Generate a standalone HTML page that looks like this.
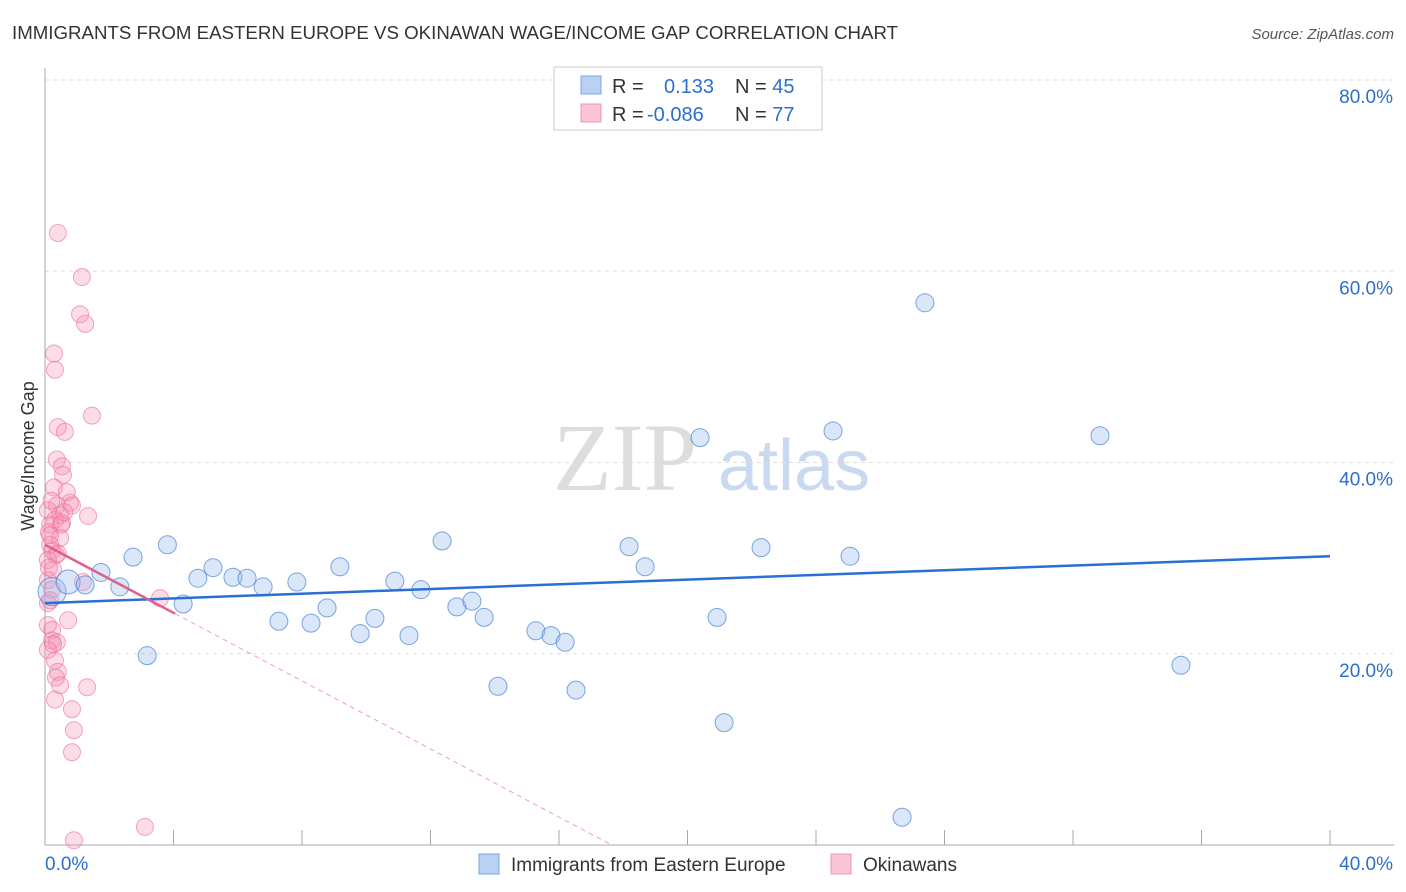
<!DOCTYPE html>
<html><head><meta charset="utf-8"><style>
body{margin:0;background:#fff;font-family:"Liberation Sans",sans-serif}
#wrap{position:relative;width:1406px;height:892px;overflow:hidden}
</style></head><body>
<div id="wrap">
<svg id="svg" width="1406" height="892" xmlns="http://www.w3.org/2000/svg">
<text x="12" y="39" font-size="18" fill="#333" textLength="886" lengthAdjust="spacingAndGlyphs">IMMIGRANTS FROM EASTERN EUROPE VS OKINAWAN WAGE/INCOME GAP CORRELATION CHART</text>
<text x="1394" y="39" font-size="15" fill="#555" font-style="italic" text-anchor="end">Source: ZipAtlas.com</text>
<g><text x="553" y="490" font-size="96" font-family="Liberation Serif,serif" fill="#ddd">ZIP</text><text x="718" y="490" font-size="72" fill="#c9d9f0">atlas</text></g>
<text transform="translate(34,456) rotate(-90)" font-size="18" fill="#333" text-anchor="middle">Wage/Income Gap</text>
<g id="grid"></g><g id="marks"></g><g id="trends"></g>
<g>
<rect x="554" y="67" width="268" height="63" fill="#fff" stroke="#ccc"/>
<rect x="581" y="76" width="20" height="18" fill="#b9d1f3" stroke="#7aa6e0"/>
<rect x="581" y="104" width="20" height="18" fill="#f9c4d3" stroke="#ec97b0"/>
<text x="612" y="93" font-size="20" fill="#333">R = <tspan fill="#2d6fcc" x="664">0.133</tspan><tspan x="735" fill="#333">N = </tspan><tspan fill="#2d6fcc">45</tspan></text>
<text x="612" y="121" font-size="20" fill="#333">R = <tspan fill="#2d6fcc" x="647">-0.086</tspan><tspan x="735" fill="#333">N = </tspan><tspan fill="#2d6fcc">77</tspan></text>
</g>
<g>
<rect x="479" y="854" width="20" height="20" fill="#b9d1f3" stroke="#7aa6e0"/>
<text x="511" y="871" font-size="19" fill="#333">Immigrants from Eastern Europe</text>
<rect x="831" y="854" width="20" height="20" fill="#f9c4d3" stroke="#ec97b0"/>
<text x="863" y="871" font-size="19" fill="#333">Okinawans</text>
</g>
</svg>
</div>
<script>
const yTicks=[20,40,60,80];
const yTickLabels=["20.0%","40.0%","60.0%","80.0%"];
const xTicks=[0,4,8,12,16,20,24,28,32,36,40];
const blueX=[0.22,0.72,1.25,1.74,2.33,2.74,3.18,3.81,4.30,4.76,5.23,5.85,6.29,6.79,7.28,7.84,8.28,8.78,9.18,9.81,10.27,10.89,11.33,11.70,12.36,12.82,13.29,13.67,14.10,15.28,15.75,16.19,16.53,18.18,18.68,20.39,20.92,21.14,22.29,24.53,25.06,26.68,27.39,32.84,35.36];
const blueY=[26.5,27.5,27.2,28.5,27.0,30.1,19.8,31.4,25.2,27.9,29.0,28.0,27.9,27.0,23.4,27.5,23.2,24.8,29.1,22.1,23.7,27.6,21.9,26.7,31.8,24.9,25.5,23.8,16.6,22.4,21.9,21.2,16.2,31.2,29.1,42.6,23.8,12.8,31.1,43.3,30.2,2.9,56.7,42.8,18.8];
const pinkX=[0.40,1.15,1.09,1.25,0.28,0.31,1.46,0.40,0.62,0.37,0.53,0.56,0.28,0.68,0.78,0.37,0.84,1.34,0.47,0.31,0.16,0.53,0.12,0.47,0.16,0.22,0.34,0.09,0.25,0.09,0.22,0.09,0.72,1.18,3.58,0.09,0.22,0.22,0.37,0.09,0.31,0.40,0.34,0.47,1.31,0.31,0.84,0.90,0.84,3.11,0.90,0.16,0.09,0.16,0.40,0.12,0.25,0.5,0.2,0.6];
const pinkY=[64.0,59.4,55.5,54.5,51.4,49.7,44.9,43.7,43.2,40.3,39.6,38.7,37.4,36.9,35.8,35.5,35.5,34.4,34.5,34.0,33.5,33.7,32.7,32.1,31.4,30.8,30.3,29.8,28.8,27.7,26.7,25.3,23.5,27.5,25.8,23.0,22.5,21.4,21.2,20.4,19.3,18.1,17.5,16.7,16.5,15.2,14.2,12.0,9.7,1.9,0.5,25.6,35.0,32.4,30.5,29.0,21.0,33.5,36.0,34.8];
const blueTrend=[25.3,30.2];
const pinkTrend=[31.4,-1.78];
const X0=45,X1=1330,Y0=845,Y80=80;
const sx=v=>X0+(v/40)*(X1-X0);
const sy=v=>Y0-(v/80)*(Y0-Y80);
const NS="http://www.w3.org/2000/svg";
function mk(t,a,p){const e=document.createElementNS(NS,t);for(const k in a)e.setAttribute(k,a[k]);p.appendChild(e);return e;}
const grid=document.getElementById('grid');
yTicks.forEach((t,i)=>{
 const l=mk('line',{x1:X0,x2:1394,y1:sy(t),y2:sy(t),stroke:'#ddd','stroke-dasharray':'4,4'},grid);
 
 
 const tx=mk('text',{x:1393,y:sy(t)+23,'font-size':19,fill:'#2d6fcc','text-anchor':'end'},grid);
 tx.textContent=yTickLabels[i];
 
 
});
const ax=mk('line',{x1:X0,x2:X0,y1:68,y2:Y0,stroke:'#aaa'},grid);


const bx=mk('line',{x1:X0,x2:1394,y1:Y0,y2:Y0,stroke:'#aaa'},grid);


xTicks.forEach(t=>{
 const l=mk('line',{x1:sx(t),x2:sx(t),y1:Y0-15,y2:Y0,stroke:'#aaa'},grid);
 
 
});
[[0,'0.0%','start',X0],[40,'40.0%','end',1393]].forEach(d=>{
 const tx=mk('text',{x:d[3],y:870,'font-size':19,fill:'#2d6fcc','text-anchor':d[2]},grid);
 tx.textContent=d[1];
 
 
});
const marks=document.getElementById('marks');
pinkX.forEach((x,i)=>{
 const c=mk('circle',{cx:sx(x),cy:sy(pinkY[i]),r:8.5,fill:'rgba(244,143,177,0.3)',stroke:'rgba(236,110,150,0.6)'},marks);
 
 
});
blueX.forEach((x,i)=>{
 const r=i===0?14:(i===1?12:9);
 const c=mk('circle',{cx:sx(x),cy:sy(blueY[i]),r:r,fill:'rgba(150,185,235,0.35)',stroke:'rgba(70,130,215,0.7)'},marks);
 
 
});
const tr=document.getElementById('trends');
const bl=mk('line',{x1:sx(0),y1:sy(blueTrend[0]),x2:sx(40),y2:sy(blueTrend[1]),stroke:'#2a6fd3','stroke-width':2.5},tr);


const pe=4.05,pz=-pinkTrend[0]/pinkTrend[1];
const pl=mk('line',{x1:sx(0),y1:sy(pinkTrend[0]),x2:sx(pe),y2:sy(pinkTrend[0]+pinkTrend[1]*pe),stroke:'#e0608a','stroke-width':2.5},tr);


const pd=mk('line',{x1:sx(pe),y1:sy(pinkTrend[0]+pinkTrend[1]*pe),x2:sx(pz),y2:sy(0),stroke:'#eea0b8','stroke-width':1,'stroke-dasharray':'5,4'},tr);


</script>
</body></html>
